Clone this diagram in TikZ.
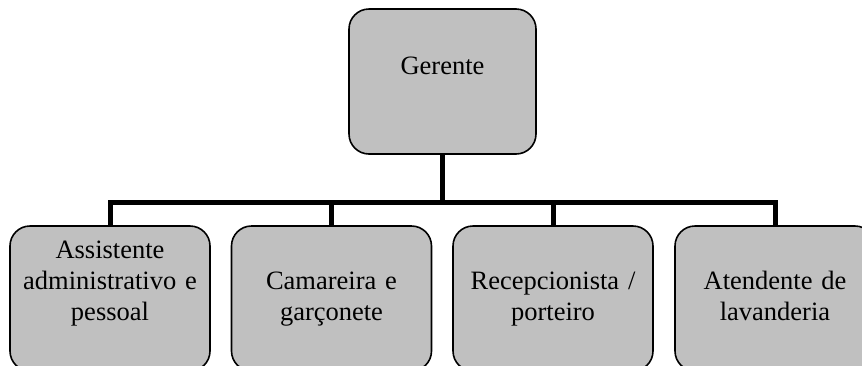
\documentclass[tikz,border=0pt]{standalone}
\usepackage{fontspec}
\setmainfont{Liberation Serif}
\usetikzlibrary{backgrounds}
\definecolor{boxgray}{HTML}{C0C0C0}
\begin{document}
\begin{tikzpicture}[x=1pt,y=-1pt,
  unit/.style={draw=black, line width=1.6pt, fill=boxgray, rounded corners=20pt,
    minimum width=187pt, minimum height=145pt, inner sep=0pt},
  staff/.style={unit, minimum width=200pt},
  caption/.style={anchor=base, text width=200pt, align=center, inner sep=0pt,
    font=\fontsize{26.5}{31}\selectfont},
  conn/.style={draw=black, line width=5pt, line join=miter}]
  \clip (0,0) rectangle (862,365);
  \useasboundingbox (0,0) rectangle (862,365);

  % org chart boxes
  \node[unit]  (g)  at (442.5,81.5) {};
  \node[staff] (b1) at (110,298.5) {};
  \node[staff] (b2) at (331.5,298.5) {};
  \node[staff] (b3) at (553,298.5) {};
  \node[staff] (b4) at (775,298.5) {};
  \coordinate (bus) at (442.5,202);

  % connectors, kept beneath the boxes
  \begin{scope}[on background layer]
    \draw[conn] (g.south) -- (bus);
    \draw[conn] (b1.north) |- (bus) -| (b4.north);
    \draw[conn] (b2.north) -- (b2.north |- bus);
    \draw[conn] (b3.north) -- (b3.north |- bus);
  \end{scope}

  % captions
  \node[caption] (tg) at (442.5,74)  {Gerente};
  \node[caption] (t1) at (110,258)   {Assistente\\administrativo e\\pessoal};
  \node[caption] (t2) at (331.5,289) {Camareira e\\garçonete};
  \node[caption] (t3) at (553,289)   {Recepcionista /\\porteiro};
  \node[caption] (t4) at (775,289)   {Atendente de\\lavanderia};
\end{tikzpicture}
\end{document}
